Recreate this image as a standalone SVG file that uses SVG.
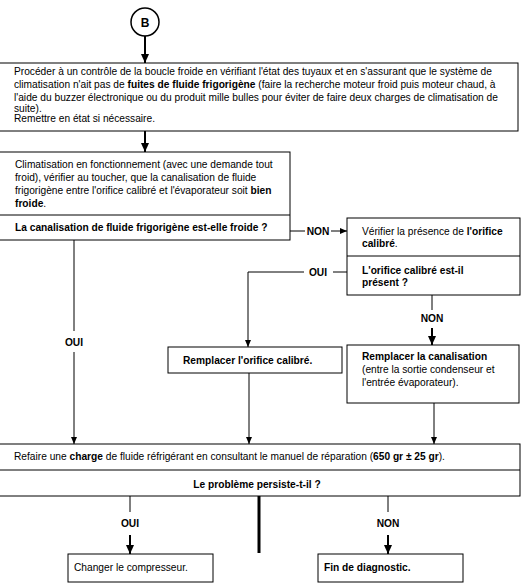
<svg xmlns="http://www.w3.org/2000/svg" width="525" height="588" viewBox="0 0 525 588">
<style>
text{font-family:"Liberation Sans",Arial,sans-serif;font-size:10.2px;fill:#000}
.b{font-weight:bold}
.box{fill:#fff;stroke:#000;stroke-width:1}
.ln{fill:none;stroke:#000;stroke-width:1}
.lt{fill:none;stroke:#000;stroke-width:2}
</style>
<defs>
<marker id="a" markerWidth="8" markerHeight="8" refX="7" refY="4" orient="auto" markerUnits="userSpaceOnUse"><path d="M0,1 L7,4 L0,7 Z" fill="#000"/></marker>
<marker id="at" markerWidth="10" markerHeight="10" refX="9" refY="5" orient="auto" markerUnits="userSpaceOnUse"><path d="M0,1 L9,5 L0,9 Z" fill="#000"/></marker>
</defs>
<rect width="525" height="588" fill="#fff"/>
<g id="connectors">
<line class="lt" x1="145" y1="36" x2="145" y2="63" marker-end="url(#at)"/>
<line class="lt" x1="145" y1="131" x2="145" y2="152" marker-end="url(#at)"/>
<polyline class="ln" points="290,231 305,231"/>
<line class="ln" x1="331" y1="231" x2="347" y2="231" marker-end="url(#a)"/>
<polyline class="ln" points="347,272 333,272"/>
<polyline class="ln" points="304,272 248,272 248,347" marker-end="url(#a)"/>
<line class="ln" x1="432" y1="295" x2="432" y2="310"/>
<line class="lt" x1="432" y1="328" x2="432" y2="345" marker-end="url(#at)"/>
<line class="ln" x1="74" y1="240" x2="74" y2="331"/>
<line class="ln" x1="74" y1="352" x2="74" y2="444" marker-end="url(#a)"/>
<line class="ln" x1="249" y1="373" x2="249" y2="444" marker-end="url(#a)"/>
<line class="ln" x1="434" y1="403" x2="434" y2="444" marker-end="url(#a)"/>
<line class="ln" x1="130" y1="496" x2="130" y2="512"/>
<line class="lt" x1="130" y1="535" x2="130" y2="554" marker-end="url(#at)"/>
<line x1="259" y1="496" x2="259" y2="553" stroke="#000" stroke-width="3"/>
<line class="ln" x1="388" y1="496" x2="388" y2="512"/>
<line class="lt" x1="388" y1="535" x2="388" y2="554" marker-end="url(#at)"/>
<text class="b" x="318" y="235" text-anchor="middle">NON</text>
<text class="b" x="318" y="276" text-anchor="middle">OUI</text>
<text class="b" x="432" y="322" text-anchor="middle">NON</text>
<text class="b" x="74" y="346" text-anchor="middle">OUI</text>
<text class="b" x="130" y="527" text-anchor="middle">OUI</text>
<text class="b" x="388" y="527" text-anchor="middle">NON</text>
</g>
<g id="nodeB">
<circle cx="145" cy="22" r="14" fill="#fff" stroke="#000" stroke-width="1.5"/>
<text class="b" x="145" y="26.5" text-anchor="middle" style="font-size:12px">B</text>
</g>
<g id="node1">
<rect class="box" x="-1" y="63" width="519" height="68"/>
<text x="14" y="75">Procéder à un contrôle de la boucle froide en vérifiant l'état des tuyaux et en s'assurant que le système de</text>
<text x="14" y="88">climatisation n'ait pas de <tspan class="b">fuites de fluide frigorigène</tspan> (faire la recherche moteur froid puis moteur chaud, à</text>
<text x="14" y="101">l'aide du buzzer électronique ou du produit mille bulles pour éviter de faire deux charges de climatisation de</text>
<text x="14" y="112">suite).</text>
<text x="14" y="122">Remettre en état si nécessaire.</text>
</g>
<g id="node2">
<rect class="box" x="-1" y="152" width="291" height="88"/>
<line class="ln" x1="-1" y1="215" x2="290" y2="215"/>
<text x="15" y="168">Climatisation en fonctionnement (avec une demande tout</text>
<text x="15" y="181">froid), vérifier au toucher, que la canalisation de fluide</text>
<text x="15" y="194">frigorigène entre l'orifice calibré et l'évaporateur soit <tspan class="b">bien</tspan></text>
<text x="15" y="207"><tspan class="b">froide</tspan>.</text>
<text class="b" x="15" y="231">La canalisation de fluide frigorigène est-elle froide ?</text>
</g>
<g id="node3">
<rect class="box" x="347" y="218" width="173" height="77"/>
<line class="ln" x1="347" y1="256" x2="520" y2="256"/>
<text x="362" y="235">Vérifier la présence de <tspan class="b">l'orifice</tspan></text>
<text x="362" y="247"><tspan class="b">calibré</tspan>.</text>
<text class="b" x="362" y="274">L'orifice calibré est-il</text>
<text class="b" x="362" y="286">présent ?</text>
</g>
<g id="node4">
<rect class="box" x="168" y="347" width="174" height="26"/>
<text class="b" x="183" y="364">Remplacer l'orifice calibré.</text>
</g>
<g id="node5">
<rect class="box" x="347" y="345" width="172" height="58"/>
<text class="b" x="362" y="360">Remplacer la canalisation</text>
<text x="362" y="373">(entre la sortie condenseur et</text>
<text x="362" y="386">l'entrée évaporateur).</text>
</g>
<g id="node6">
<rect class="box" x="-1" y="444" width="521" height="52"/>
<line class="ln" x1="-1" y1="470" x2="520" y2="470"/>
<text x="14" y="460">Refaire une <tspan class="b">charge</tspan> de fluide réfrigérant en consultant le manuel de réparation (<tspan class="b">650 gr ± 25 gr</tspan>).</text>
<text class="b" x="257" y="488" text-anchor="middle">Le problème persiste-t-il ?</text>
</g>
<g id="node7">
<rect class="box" x="68" y="554" width="145" height="28"/>
<text x="74" y="571">Changer le compresseur.</text>
</g>
<g id="node8">
<rect class="box" x="318" y="554" width="145" height="28"/>
<text class="b" x="324" y="571">Fin de diagnostic.</text>
</g>
</svg>
